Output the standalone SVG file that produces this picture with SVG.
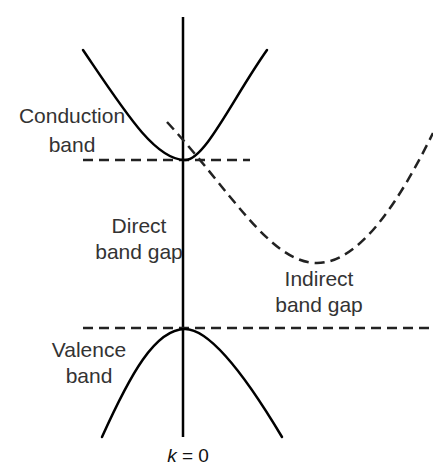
<svg xmlns="http://www.w3.org/2000/svg" width="433" height="467" viewBox="0 0 433 467">
<style>
.curve{fill:none;stroke:#000;stroke-width:2.5;stroke-linecap:round}
.dash{fill:none;stroke:#222;stroke-width:2.5;stroke-dasharray:10,6}
.lbl{font-family:"Liberation Sans",Arial,sans-serif;font-size:21px;fill:#333;text-anchor:middle}
</style>
<rect width="433" height="467" fill="#fff"/>
<g id="connectors">
<line x1="183" y1="17" x2="183" y2="437" stroke="#000" stroke-width="2.5"/>
<line class="dash" x1="83" y1="160" x2="250" y2="160"/>
<line class="dash" x1="83" y1="328" x2="433" y2="328"/>
<path class="dash" d="M167,122 C230,190 270,263 317,263 C360,263 400,200 433,133"/>
</g>
<g id="conduction-band">
<path class="curve" d="M83,50 C125,112 155,160 185,160 C205,160 233,98 267,50"/>
<text class="lbl" x="72" y="123">Conduction</text>
<text class="lbl" x="72" y="152">band</text>
</g>
<g id="valence-band">
<path class="curve" d="M102,437 C130,375 155,329 185,329 C210,329 245,375 282,437"/>
<text class="lbl" x="89" y="357">Valence</text>
<text class="lbl" x="89" y="383">band</text>
</g>
<g id="direct-gap">
<text class="lbl" x="139" y="233">Direct</text>
<text class="lbl" x="139" y="259">band gap</text>
</g>
<g id="indirect-gap">
<text class="lbl" x="319" y="286">Indirect</text>
<text class="lbl" x="319" y="312">band gap</text>
</g>
<g id="axis-label">
<text class="lbl" x="188" y="462" style="font-size:19px;fill:#111"><tspan font-style="italic">k</tspan> = 0</text>
</g>
</svg>
